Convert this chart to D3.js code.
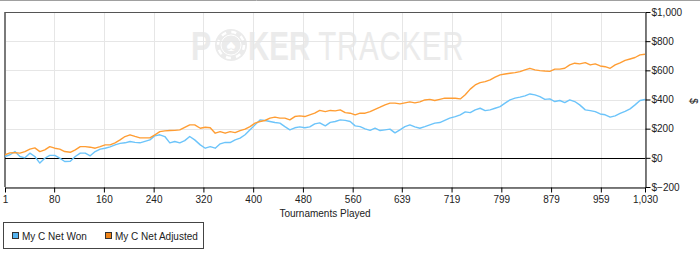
<!DOCTYPE html>
<html><head><meta charset="utf-8">
<script src="https://cdn.jsdelivr.net/npm/d3@7"></script>
<style>
html,body{margin:0;padding:0;background:#fff;}
svg{display:block;font-family:"Liberation Sans",Arial,sans-serif;}
</style></head>
<body><svg id="c" width="700" height="253"></svg>
<script>
// ---- data ----
const seriesNames = ["My C Net Won", "My C Net Adjusted"];
const seriesColors = ["#6cc4fa", "#ff9d33"];
const swatchColors = ["#56b4f0", "#f08418"];
const xTickValues = [1, 80, 160, 240, 320, 400, 480, 560, 639, 719, 799, 879, 959, 1030];
const yTickValues = [-200, 0, 200, 400, 600, 800, 1000];
const netWon = [
  9,21,43,9,0,32,9,-36,-3,17,
  17,-2,-25,-24,9,32,32,14,43,60,
  66,75,89,99,103,112,106,103,113,123,
  151,158,146,103,112,103,118,146,123,89,
  66,77,66,96,106,105,123,135,158,192,
  226,260,256,249,242,238,214,192,206,212,
  206,212,233,240,219,243,249,260,257,249,
  219,214,199,188,203,187,192,197,171,192,
  214,226,212,203,214,226,238,242,257,272,
  283,295,315,310,329,340,324,329,340,351,
  375,397,409,416,425,438,432,420,401,404,
  386,393,379,397,386,363,329,324,317,301,
  295,279,288,305,319,336,363,393,400
];
const netAdjusted = [
  21,34,36,32,43,60,68,43,55,77,
  66,60,43,38,55,77,77,73,66,77,
  89,89,103,123,146,158,147,137,137,137,
  158,180,185,187,188,192,209,226,226,203,
  210,206,169,180,169,180,173,187,197,214,
  238,249,256,272,279,272,272,260,283,288,
  283,295,306,325,317,325,322,329,310,306,
  295,306,306,317,332,347,363,375,375,370,
  377,384,377,384,397,401,393,401,409,409,
  409,404,432,471,500,516,523,534,553,569,
  575,580,584,591,603,614,603,598,595,593,
  608,608,614,637,649,644,653,637,644,630,
  625,614,637,651,668,678,688,706,710
];
// tournament number of each sample (evenly spaced from 1 to 1030)
const tournaments = netWon.map((_, i) => Math.round(1 + i * 1029 / (netWon.length - 1)));

// ---- layout ----
const svg = d3.select("#c");
const L = 5, R = 645, T = 12, B = 187;
const FS = 10;
const x = d3.scaleLinear().domain([1, 1030]).range([L, R]);
const y = d3.scaleLinear().domain([-200, 1000]).range([B, T]);

// window top border
svg.append("line").attr("x1",0).attr("x2",700).attr("y1",0.5).attr("y2",0.5).attr("stroke","#a0a0a0");

// watermark
const wm = svg.append("g").attr("fill","#ebebeb");
wm.append("text").attr("transform","translate(191,60) scale(0.74,1)").attr("font-size",41)
  .attr("font-weight","bold").text("P");
const chip = wm.append("g").attr("transform","translate(231,45)");
chip.append("circle").attr("r",16).attr("fill","#ebebeb");
chip.append("circle").attr("r",13).attr("fill","none").attr("stroke","#fff").attr("stroke-width",2.5)
  .attr("stroke-dasharray","5 5.2");
chip.append("circle").attr("r",10).attr("fill","#ebebeb").attr("stroke","#fff").attr("stroke-width",1);
chip.append("text").attr("text-anchor","middle").attr("y",6).attr("font-size",17).attr("fill","#fff").text("\u2660");
const wt = wm.append("text").attr("transform","translate(248,60) scale(0.72,1)").attr("font-size",41);
wt.append("tspan").attr("font-weight","bold").text("KER");
wt.append("tspan").attr("dx",11).attr("letter-spacing",1).text("TRACKER");

// grid
const grid = svg.append("g").attr("stroke","#e6e6e6").attr("stroke-width",1);
xTickValues.forEach(v => {
  const px = Math.round(x(v)) + 0.5;
  grid.append("line").attr("x1",px).attr("x2",px).attr("y1",T).attr("y2",B);
});
yTickValues.forEach(v => {
  const py = Math.round(y(v)) + 0.5;
  grid.append("line").attr("x1",L).attr("x2",R).attr("y1",py).attr("y2",py);
});

// frame: left & top
svg.append("line").attr("x1",L).attr("x2",L).attr("y1",T).attr("y2",B).attr("stroke","#7a7a7a").attr("stroke-width",2);
svg.append("line").attr("x1",L).attr("x2",R).attr("y1",T+0.5).attr("y2",T+0.5).attr("stroke","#555");

// zero line
svg.append("line").attr("x1",L).attr("x2",R).attr("y1",Math.round(y(0))+0.5).attr("y2",Math.round(y(0))+0.5)
  .attr("stroke","#000").attr("stroke-width",1);

// series lines
const line = d3.line().x((d,i)=>x(tournaments[i])).y(d=>y(d));
[netWon, netAdjusted].forEach((s, k) => {
  svg.append("path").datum(s).attr("d", line).attr("fill","none")
    .attr("stroke", seriesColors[k]).attr("stroke-width",1.4).attr("stroke-linejoin","round");
});

// x axis (bottom)
const xAxis = d3.axisBottom(x).tickValues(xTickValues).tickSize(5).tickSizeOuter(0)
  .tickFormat(d3.format(","));
const gx = svg.append("g").attr("transform",`translate(0,${B+0.5})`).call(xAxis);
gx.select(".domain").attr("stroke","#000");
gx.selectAll("text").attr("font-size",FS).attr("fill","#222").attr("dy","0.75em")
  .attr("font-family","'Liberation Sans',Arial,sans-serif");

// y axis (right)
const yAxis = d3.axisRight(y).tickValues(yTickValues).tickSize(5).tickSizeOuter(0)
  .tickFormat(d => "$" + d3.format(",")(d));
const gy = svg.append("g").attr("transform",`translate(${R+0.5},0)`).call(yAxis);
gy.select(".domain").attr("stroke","#000");
gy.selectAll("text").attr("font-size",FS).attr("fill","#222").attr("x",6)
  .attr("font-family","'Liberation Sans',Arial,sans-serif");

// axis titles
svg.append("text").attr("x",325).attr("y",217).attr("text-anchor","middle").attr("font-size",FS)
  .attr("fill","#222").text("Tournaments Played");
svg.append("text").attr("transform","translate(690,101) rotate(90)").attr("text-anchor","middle")
  .attr("font-size",FS).attr("fill","#222").text("$");

// legend
const lg = svg.append("g");
lg.append("rect").attr("x",3.5).attr("y",222.5).attr("width",200).attr("height",26)
  .attr("fill","#fff").attr("stroke","#444");
const lx = [12, 105];
seriesNames.forEach((n, k) => {
  lg.append("rect").attr("x",lx[k]+0.5).attr("y",232.5).attr("width",6).attr("height",6)
    .attr("fill",swatchColors[k]).attr("stroke","#333");
  lg.append("text").attr("x",lx[k]+10).attr("y",240).attr("font-size",FS).attr("fill","#222").text(n);
});
</script></body></html>
